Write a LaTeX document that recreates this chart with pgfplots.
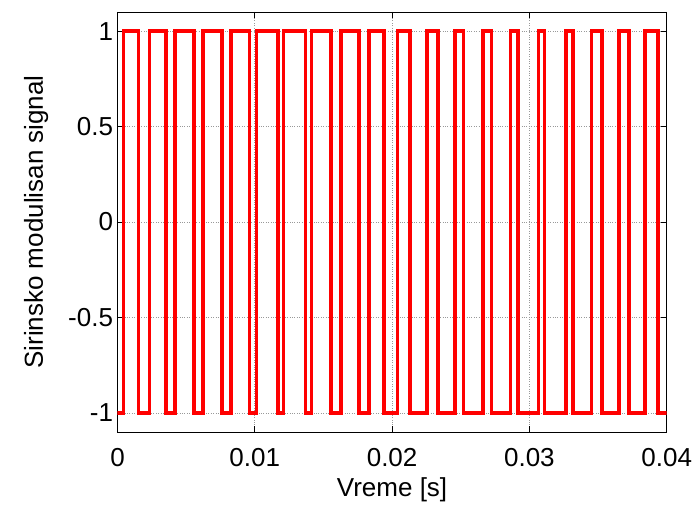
\documentclass[border=0pt]{standalone}
\usepackage{fontspec}
\setmainfont{Liberation Sans}
\usepackage{pgfplots}
\pgfplotsset{compat=1.18}
\begin{document}
\begin{tikzpicture}
\begin{axis}[
  scale only axis,
  width=549.2bp, height=420bp,
  xmin=0, xmax=0.04, ymin=-1.1, ymax=1.1,
  scaled x ticks=false, scaled y ticks=false,
  xtick={0,0.01,0.02,0.03,0.04},
  xticklabels={0,0.01,0.02,0.03,0.04},
  ytick={-1,-0.5,0,0.5,1},
  yticklabels={-1,-0.5,0,0.5,1},
  tick align=inside,
  major tick length=6bp,
  tick style={black, line width=0.8bp},
  axis line style={black, line width=0.8bp},
  grid=major,
  major grid style={dotted, gray!80, line width=0.7bp},
  tick label style={font=\fontsize{26bp}{31bp}\selectfont},
  label style={font=\fontsize{26bp}{31bp}\selectfont},
  xticklabel style={anchor=base, yshift=-34.7bp},
  yticklabel style={xshift=-1bp},
  xlabel={Vreme [s]},
  ylabel={Sirinsko modulisan signal},
  xlabel style={at={([yshift=-64.7bp]axis description cs:0.5,0)}, anchor=base},
  ylabel style={at={([xshift=-74.5bp]axis description cs:0,0.5)}, anchor=base, rotate=0},
]
\addplot[const plot, red, line width=3.6bp] coordinates {
(0,-1) (0.00045,1) (0.00154,-1) (0.00232,1) (0.00355,-1) (0.00417,1)
(0.00558,-1) (0.00621,1) (0.00760,-1) (0.00825,1) (0.00960,-1)
(0.01012,1) (0.01167,-1) (0.01210,1) (0.01368,-1) (0.01414,1)
(0.01555,-1) (0.01630,1) (0.01757,-1) (0.01832,1) (0.01943,-1)
(0.02038,1) (0.02130,-1) (0.02252,1) (0.02334,-1) (0.02456,1)
(0.02520,-1) (0.02660,1) (0.02725,-1) (0.02861,1) (0.02918,-1)
(0.03065,1) (0.03111,-1) (0.03267,1) (0.03316,-1) (0.03452,1)
(0.03527,-1) (0.03653,1) (0.03726,-1) (0.03841,1) (0.03935,-1)
(0.04,-1)
};
\end{axis}
\pgfresetboundingbox
\path (current axis.south west) ++(-117.5bp,-78bp) coordinate (bbA);
\path (current axis.north east) ++(33.3bp,12bp) coordinate (bbB);
\path[use as bounding box] (bbA) rectangle (bbB);
\end{tikzpicture}
\end{document}
